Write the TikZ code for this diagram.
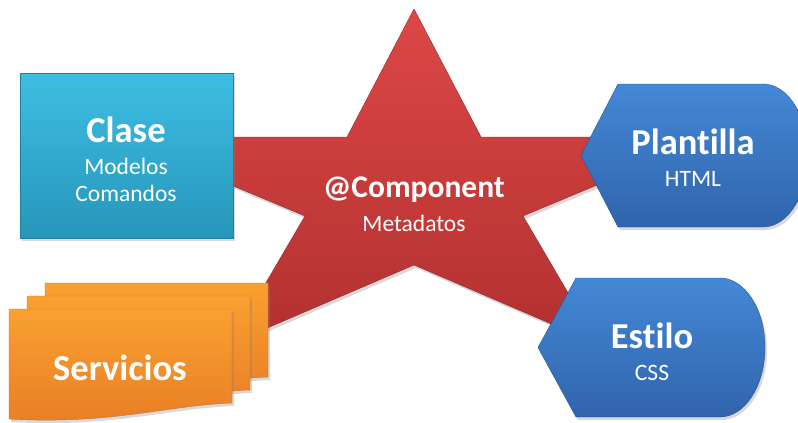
\documentclass[tikz,border=0pt]{standalone}
\usepackage{fontspec}
\setmainfont{Carlito}[Ligatures={NoCommon,NoContextual}, RawFeature={-calt}]
\usetikzlibrary{shadows}
\definecolor{starTop}{RGB}{220,72,70}
\definecolor{starBot}{RGB}{178,48,48}
\definecolor{claseTop}{RGB}{62,190,226}
\definecolor{claseBot}{RGB}{38,150,186}
\definecolor{svcTop}{RGB}{250,160,48}
\definecolor{svcBot}{RGB}{232,126,38}
\definecolor{tplTop}{RGB}{68,136,214}
\definecolor{tplBot}{RGB}{48,100,172}

\begin{document}
\begin{tikzpicture}[x=1pt, y=-1pt,
    every node/.style={text=white, inner sep=0pt, anchor=center},
    title/.style={font=\bfseries\fontsize{36.5}{40}\selectfont},
    subtitle/.style={font=\fontsize{23.5}{26}\selectfont},
    softshadow/.style={drop shadow={shadow xshift=2pt, shadow yshift=-3pt, opacity=0.3}},
    starshape/.style={top color=starTop, bottom color=starBot, draw=starBot!85!black, line width=0.4pt, softshadow},
    clasebox/.style={top color=claseTop, bottom color=claseBot, draw=claseBot!85!black, line width=0.4pt, softshadow},
    svcbox/.style={top color=svcTop, bottom color=svcBot, draw=svcBot!90!black, line width=0.4pt, softshadow},
    displaybox/.style={top color=tplTop, bottom color=tplBot, draw=tplBot!85!black, line width=0.4pt, softshadow}]
    \clip (0,0) rectangle (798,423);

    % central star
    \draw[starshape] (414,9) -- (481,137) -- (712,137) -- (523,216) -- (598,344)
      -- (414,265) -- (230,344) -- (305,216) -- (116,137) -- (347,137) -- cycle;

    % Clase
    \draw[clasebox] (20,73) rectangle (233,238);

    % Servicios, three stacked sheets
    \foreach \sx/\sy in {45/283, 27/296, 9/309}
      \draw[svcbox] (\sx,\sy) -- ({\sx+223},\sy) -- ({\sx+223},{\sy+94})
        .. controls ({\sx+161},{\sy+96}) and ({\sx+101},{\sy+116}) .. (\sx,{\sy+110}) -- cycle;

    % Plantilla
    \draw[displaybox] (581,155.5) -- (618,84) -- (763,84)
      arc[start angle=-90, end angle=90, x radius=45, y radius=71.5] -- (618,227) -- cycle;

    % Estilo
    \draw[displaybox] (538,347.5) -- (576,278) -- (720,278)
      arc[start angle=-90, end angle=90, x radius=45, y radius=69.5] -- (576,417) -- cycle;

    % texts
    \node[font=\bfseries\fontsize{31.5}{34}\selectfont] (comp) at (414,190) {@Component};
    \node[subtitle] (meta) at (414,223) {Metadatos};

    \node[title] (clase) at (126,130) {Clase};
    \node[subtitle] (modelos) at (126,166) {Modelos};
    \node[subtitle] (comandos) at (126,193) {Comandos};

    \node[title] (svc) at (120,368) {Servicios};

    \node[title] (tpl) at (693,142) {Plantilla};
    \node[subtitle] (html) at (693,179) {HTML};

    \node[title] (estilo) at (652,336) {Estilo};
    \node[subtitle] (css) at (652,373) {CSS};
\end{tikzpicture}
\end{document}
